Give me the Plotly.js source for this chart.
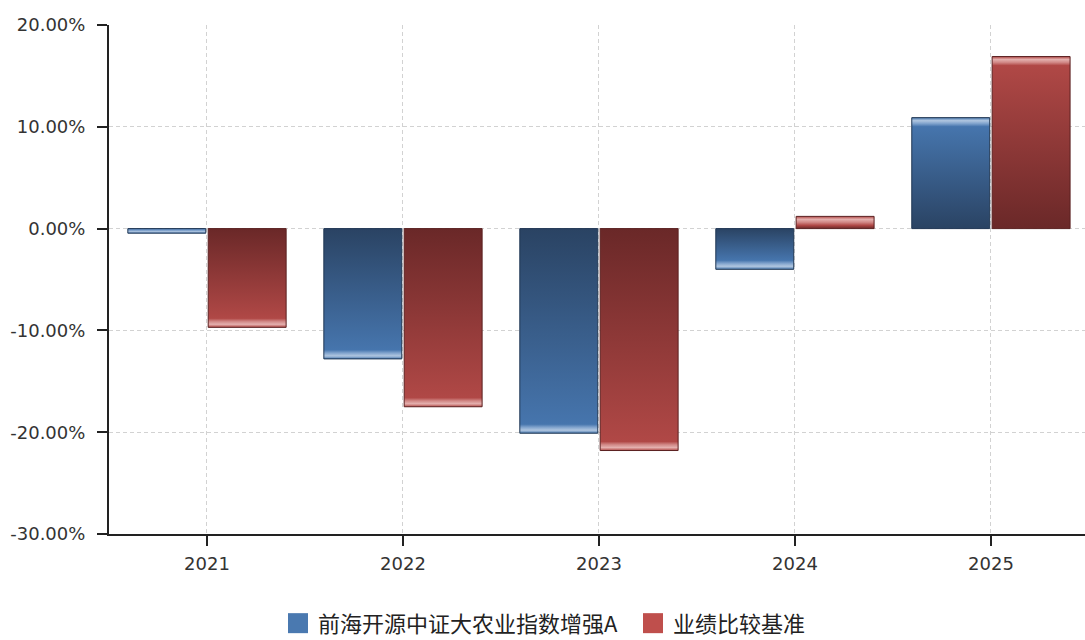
<!DOCTYPE html>
<html>
<head>
<meta charset="utf-8">
<script src="https://cdn.plot.ly/plotly-3.0.1.min.js"></script>
<style>
html,body{margin:0;padding:0;background:#fff;}
#chart{width:1085px;height:640px;}
</style>
</head>
<body>
<div id="chart"></div>
<script>
const categories = ["2021", "2022", "2023", "2024", "2025"];
const fundName = "前海开源中证大农业指数增强A";
const benchName = "业绩比较基准";
const fundValues = [-0.45, -12.8, -20.1, -4.0, 10.9];
const benchValues = [-9.7, -17.5, -21.8, 1.2, 16.9];
const yTicks = [-30, -20, -10, 0, 10, 20];
const yTickLabels = ["-30.00%", "-20.00%", "-10.00%", "0.00%", "10.00%", "20.00%"];

const fontFam = "'DejaVu Sans', sans-serif";

const traces = [
  {type: "bar", name: fundName, x: categories, y: fundValues,
   marker: {color: "#4a79b0", line: {color: "#1f3653", width: 1}}, hoverinfo: "none"},
  {type: "bar", name: benchName, x: categories, y: benchValues,
   marker: {color: "#bf4f4c", line: {color: "#5a2020", width: 1}}, hoverinfo: "none"}
];

const layout = {
  width: 1085, height: 640,
  margin: {l: 109, r: 0, t: 25, b: 106, autoexpand: false},
  paper_bgcolor: "#fff", plot_bgcolor: "#fff",
  barmode: "group", bargap: 0.18, bargroupgap: 0.03,
  showlegend: true,
  legend: {orientation: "h", xref: "container", yref: "container",
           x: 0.5, xanchor: "center", y: 0.026, yanchor: "middle",
           font: {family: "'Noto Sans CJK SC', sans-serif", size: 22, color: "#222"},
           itemwidth: 30, traceorder: "normal"},
  xaxis: {
    type: "category", range: [-0.5, 4.48],
    showline: true, linecolor: "#222", linewidth: 2,
    ticks: "outside", ticklen: 10, tickwidth: 2, tickcolor: "#222",
    showgrid: true, gridcolor: "#d2d2d2", griddash: "4px,3px", gridwidth: 1,
    tickfont: {family: fontFam, size: 18, color: "#333"},
    ticklabelstandoff: 2,
    zeroline: false, fixedrange: true
  },
  yaxis: {
    range: [-30, 20], tickmode: "array", tickvals: yTicks, ticktext: yTickLabels,
    showline: true, linecolor: "#222", linewidth: 2,
    ticks: "outside", ticklen: 10, tickwidth: 2, tickcolor: "#222",
    showgrid: true, gridcolor: "#d2d2d2", griddash: "4px,3px", gridwidth: 1,
    tickfont: {family: fontFam, size: 18, color: "#333"},
    ticklabelstandoff: 8,
    zeroline: false, fixedrange: true
  }
};

function getTr(el) {
  const t = el.getAttribute("transform") || "";
  const m = /translate\(([-\d.]+)[,\s]+([-\d.]+)\)/.exec(t);
  return m ? [parseFloat(m[1]), parseFloat(m[2])] : [0, 0];
}

function addGradients(gd) {
  const svgNS = "http://www.w3.org/2000/svg";
  const svg = gd.querySelector(".main-svg");
  let defs = svg.querySelector("defs");
  if (!defs) { defs = document.createElementNS(svgNS, "defs"); svg.insertBefore(defs, svg.firstChild); }
  const palettes = [
    {dark: "#2a4363", mid: "#4675ad", hi1: "#7fa2cc", hi2: "#b0c6e0", end: "#4a78ad"},
    {dark: "#6a2828", mid: "#b04846", hi1: "#d08684", hi2: "#e4b0ae", end: "#b24a48"}
  ];
  const data = [fundValues, benchValues];
  const barTraces = gd.querySelectorAll(".barlayer .trace");
  barTraces.forEach((tr, i) => {
    tr.querySelectorAll(".point path").forEach((path, j) => {
      const v = data[i][j];
      const bb = path.getBBox();
      const h = bb.height;
      const zero = v >= 0 ? bb.y + h : bb.y;
      const end = v >= 0 ? bb.y : bb.y + h;
      const p = palettes[i];
      const id = "g" + i + "_" + j;
      const g = document.createElementNS(svgNS, "linearGradient");
      g.setAttribute("id", id);
      g.setAttribute("gradientUnits", "userSpaceOnUse");
      g.setAttribute("x1", bb.x); g.setAttribute("x2", bb.x);
      g.setAttribute("y1", zero); g.setAttribute("y2", end);
      const cl = x => Math.max(0, Math.min(1, x));
      const stops = h > 12
        ? [[0, p.dark], [cl((h - 9) / h), p.mid], [cl((h - 6) / h), p.hi1], [cl((h - 3) / h), p.hi2], [1, p.end]]
        : [[0, p.mid], [0.4, p.hi1], [0.7, p.hi2], [1, p.mid]];
      stops.forEach(s => {
        const st = document.createElementNS(svgNS, "stop");
        st.setAttribute("offset", s[0]); st.setAttribute("stop-color", s[1]);
        g.appendChild(st);
      });
      defs.appendChild(g);
      path.style.fill = "url(#" + id + ")";
    });
  });
  // legend: larger swatches, wider gap between items, no clipping
  const lg = gd.querySelector(".legend");
  lg.querySelectorAll("[clip-path]").forEach(e => e.removeAttribute("clip-path"));
  const items = lg.querySelectorAll(".traces");
  items.forEach(it => {
    it.querySelectorAll(".legendpoints path").forEach(pth => {
      pth.setAttribute("d", "M10,10H-10V-10H10Z");
      pth.style.strokeWidth = "0";
    });
  });
  if (items.length > 1) {
    const a = getTr(items[1]);
    items[1].setAttribute("transform", "translate(" + (a[0] + 10) + "," + a[1] + ")");
    const b = getTr(lg);
    lg.setAttribute("transform", "translate(" + (b[0] - 3) + "," + b[1] + ")");
  }
}

Plotly.newPlot("chart", traces, layout, {staticPlot: true}).then(addGradients);
</script>
</body>
</html>
